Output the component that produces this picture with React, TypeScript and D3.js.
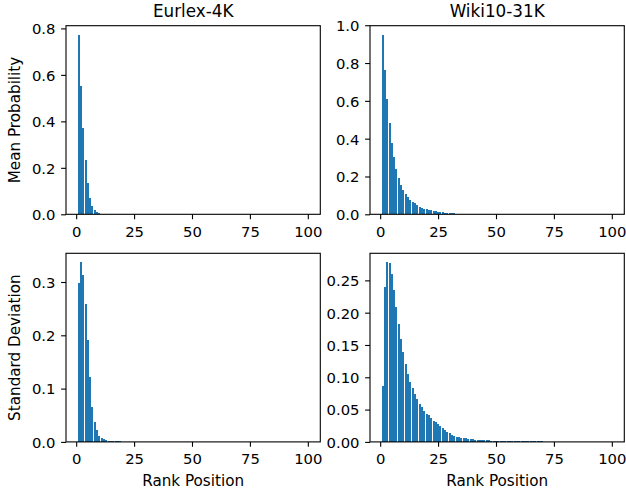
import React, { useEffect, useRef } from 'react';
import * as d3 from 'd3';

// mean probability per rank position (1..100)
const eurlexMean = [
  0.773, 0.554, 0.373, 0.235, 0.136, 0.071, 0.035, 0.019, 0.010, 0.006,
  0.003, 0.002, 0.002, 0.0015, 0.001, 0.0008, 0.0006, 0.0005, 0.0004, 0.0003,
  0.0003, 0.0002, 0.0002, 0.0002, 0.0002, 0.0001, 0.0001, 0.0001, 0.0001, 0.0001,
  0.0001, 0.0001, 0.0001, 0.0001, 0.0001, 0.0001, 0.0001, 0.0001, 0.0001, 0.0001,
  0.0001, 0.0001, 0.0001, 0.0001, 0.0001, 0, 0, 0, 0, 0,
  0, 0, 0, 0, 0, 0, 0, 0, 0, 0,
  0, 0, 0, 0, 0, 0, 0, 0, 0, 0,
  0, 0, 0, 0, 0, 0, 0, 0, 0, 0,
  0, 0, 0, 0, 0, 0, 0, 0, 0, 0,
  0, 0, 0, 0, 0, 0, 0, 0, 0, 0,
];

const wikiMean = [
  0.950, 0.765, 0.611, 0.485, 0.379, 0.305, 0.241, 0.194, 0.156, 0.130,
  0.108, 0.092, 0.077, 0.066, 0.058, 0.050, 0.041, 0.035, 0.030, 0.028,
  0.024, 0.023, 0.019, 0.018, 0.013, 0.012, 0.011, 0.008, 0.007, 0.007,
  0.006, 0.006, 0.004, 0.0035, 0.0035, 0.003, 0.003, 0.003, 0.003, 0.0028,
  0.0027, 0.0026, 0.0025, 0.0024, 0.0023, 0.0022, 0.0021, 0.002, 0.0012, 0.001,
  0.0009, 0.0009, 0.0008, 0.0008, 0.0007, 0.0007, 0.0006, 0.0006, 0.0005, 0.0005,
  0.0005, 0.0004, 0.0004, 0.0004, 0.0003, 0.0003, 0.0003, 0.0003, 0.0002, 0.0002,
  0.0002, 0.0002, 0.0002, 0.0002, 0.0001, 0.0001, 0.0001, 0.0001, 0.0001, 0.0001,
  0.0001, 0.0001, 0.0001, 0.0001, 0.0001, 0.0001, 0.0001, 0.0001, 0.0001, 0.0001,
  0.0001, 0.0001, 0.0001, 0.0001, 0.0001, 0.0001, 0.0001, 0.0001, 0.0001, 0.0001,
];

// standard deviation per rank position
const eurlexStd = [
  0.2975, 0.337, 0.313, 0.258, 0.191, 0.122, 0.065, 0.037, 0.022, 0.011,
  0.007, 0.005, 0.003, 0.002, 0.0014, 0.0013, 0.0012, 0.0011, 0.001, 0.0005,
  0.0004, 0.0003, 0.0003, 0.0002, 0.0002, 0.0002, 0.0001, 0.0001, 0.0001, 0.0001,
  0.0001, 0.0001, 0.0001, 0.0001, 0.0001, 0.0001, 0.0001, 0.0001, 0.0001, 0.0001,
  0, 0, 0, 0, 0, 0, 0, 0, 0, 0,
  0, 0, 0, 0, 0, 0, 0, 0, 0, 0,
  0, 0, 0, 0, 0, 0, 0, 0, 0, 0,
  0, 0, 0, 0, 0, 0, 0, 0, 0, 0,
  0, 0, 0, 0, 0, 0, 0, 0, 0, 0,
  0, 0, 0, 0, 0, 0, 0, 0, 0, 0,
];

const wikiStd = [
  0.0866, 0.240, 0.278, 0.277, 0.260, 0.235, 0.209, 0.182, 0.159, 0.139,
  0.121, 0.105, 0.093, 0.0835, 0.074, 0.066, 0.059, 0.054, 0.048, 0.043,
  0.041, 0.037, 0.032, 0.031, 0.028, 0.025, 0.022, 0.019, 0.015, 0.014,
  0.011, 0.009, 0.008, 0.008, 0.006, 0.006, 0.006, 0.0046, 0.0045, 0.0044,
  0.003, 0.003, 0.003, 0.003, 0.003, 0.003, 0.003, 0.0016, 0.0015, 0.0015,
  0.0015, 0.0015, 0.0014, 0.0014, 0.0014, 0.0013, 0.0013, 0.0013, 0.0012, 0.0012,
  0.0012, 0.0011, 0.0011, 0.0011, 0.001, 0.001, 0.001, 0.001, 0.0009, 0.0009,
  0.0004, 0.0003, 0.0003, 0.0003, 0.0002, 0.0002, 0.0002, 0.0002, 0.0002, 0.0002,
  0.0001, 0.0001, 0.0001, 0.0001, 0.0001, 0.0001, 0.0001, 0.0001, 0.0001, 0.0001,
  0.0001, 0.0001, 0.0001, 0.0001, 0.0001, 0.0001, 0.0001, 0.0001, 0.0001, 0.0001,
];

const titles = ['Eurlex-4K', 'Wiki10-31K'];
const rowLabels = ['Mean Probability', 'Standard Deviation'];
const xLabel = 'Rank Position';
const xTicks = [0, 25, 50, 75, 100];
const yTicksMeanEurlex = [0, 0.2, 0.4, 0.6, 0.8];
const yTicksMeanWiki = [0, 0.2, 0.4, 0.6, 0.8, 1.0];
const yTicksStdEurlex = [0, 0.1, 0.2, 0.3];
const yTicksStdWiki = [0, 0.05, 0.1, 0.15, 0.2, 0.25];

const W = 626;
const H = 497;
const FONT = 'DejaVu Sans, sans-serif';
const TICK_FS = 14.8;
const LABEL_FS = 15.2;

const App = () => {
  const svgRef = useRef<SVGSVGElement | null>(null);

  useEffect(() => {
    const svg = d3.select(svgRef.current);
    svg.selectAll('*').remove();

    const cols = [66, 370];
    const rows = [25.7, 253.3];
    const pw = 254.3;
    const ph = 188.6;

    const panels = [
      { data: eurlexMean, ticks: yTicksMeanEurlex, fmt: '.1f', r: 0, c: 0 },
      { data: wikiMean, ticks: yTicksMeanWiki, fmt: '.1f', r: 0, c: 1 },
      { data: eurlexStd, ticks: yTicksStdEurlex, fmt: '.1f', r: 1, c: 0 },
      { data: wikiStd, ticks: yTicksStdWiki, fmt: '.2f', r: 1, c: 1 },
    ];

    panels.forEach(p => {
      const g = svg.append('g').attr('transform', `translate(${cols[p.c]},${rows[p.r]})`);

      // matplotlib-like limits: bars 0.6..100.4 plus 5% margin
      const lo = 0.6, hi = p.data.length + 0.4;
      const m = (hi - lo) * 0.05;
      const x = d3.scaleLinear().domain([lo - m, hi + m]).range([0, pw]);
      const y = d3.scaleLinear().domain([0, d3.max(p.data) * 1.05]).range([ph, 0]);
      // snap bars to whole pixels like the agg renderer does
      const bw = Math.max(1, Math.round(x(0.8) - x(0)));

      g.append('g')
        .attr('fill', '#1f77b4')
        .attr('shape-rendering', 'crispEdges')
        .selectAll('rect')
        .data(p.data)
        .join('rect')
          .attr('x', (d, i) => Math.round(x(i + 1 - 0.4)))
          .attr('width', bw)
          .attr('y', d => y(d))
          .attr('height', d => ph - y(d));

      const xAxis = g.append('g')
        .attr('transform', `translate(0,${ph})`)
        .call(d3.axisBottom(x).tickValues(xTicks).tickFormat(d3.format('d')).tickSize(4.9).tickPadding(0).tickSizeOuter(0));
      xAxis.select('.domain').remove();
      xAxis.selectAll('.tick line').attr('stroke', '#000').attr('stroke-width', 1.1);
      xAxis.selectAll('.tick text')
        .attr('fill', '#000')
        .attr('font-family', FONT)
        .attr('font-size', TICK_FS)
        .attr('dy', null)
        .attr('y', 22.3);

      const yAxis = g.append('g')
        .call(d3.axisLeft(y).tickValues(p.ticks).tickFormat(d3.format(p.fmt)).tickSize(4.9).tickPadding(0).tickSizeOuter(0));
      yAxis.select('.domain').remove();
      yAxis.selectAll('.tick line').attr('stroke', '#000').attr('stroke-width', 1.1);
      yAxis.selectAll('.tick text')
        .attr('fill', '#000')
        .attr('font-family', FONT)
        .attr('font-size', TICK_FS)
        .attr('x', -10.5)
        .attr('dy', null)
        .attr('y', TICK_FS * 0.364);

      g.append('rect')
        .attr('width', pw)
        .attr('height', ph)
        .attr('fill', 'none')
        .attr('stroke', '#000')
        .attr('stroke-width', 1.1);

      if (p.r === 0) {
        g.append('text')
          .attr('x', pw / 2)
          .attr('y', -8.7)
          .attr('text-anchor', 'middle')
          .attr('font-family', FONT)
          .attr('font-size', 16.8)
          .text(titles[p.c]);
      }
      if (p.r === 1) {
        g.append('text')
          .attr('x', pw / 2)
          .attr('y', ph + 44.5)
          .attr('text-anchor', 'middle')
          .attr('font-family', FONT)
          .attr('font-size', LABEL_FS)
          .text(xLabel);
      }
      if (p.c === 0) {
        g.append('text')
          .attr('transform', `translate(${-46},${ph / 2}) rotate(-90)`)
          .attr('text-anchor', 'middle')
          .attr('font-family', FONT)
          .attr('font-size', LABEL_FS)
          .text(rowLabels[p.r]);
      }
    });
  }, []);

  return (
    <svg
      ref={svgRef}
      width={W}
      height={H}
      style={{ position: 'absolute', left: 0, top: 0, background: '#fff' }}
    />
  );
};

export default App;
